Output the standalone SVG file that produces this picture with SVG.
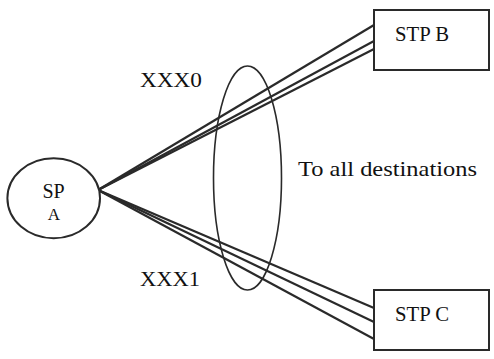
<svg xmlns="http://www.w3.org/2000/svg" width="494" height="359" viewBox="0 0 494 359">
<style>
.shape{fill:#fff;stroke:#2a2a2a;stroke-width:2}
.link{stroke:#2a2a2a;stroke-width:2.2;fill:none}
.grp{fill:none;stroke:#2a2a2a;stroke-width:1.6}
.t{font-family:'Times New Roman','Liberation Serif',Tinos,Times,serif;fill:#111}
</style>
<rect width="494" height="359" fill="#fff"/>
<g id="connectors">
<line class="link" x1="98" y1="190" x2="374" y2="25"/>
<line class="link" x1="98" y1="190" x2="374" y2="41"/>
<line class="link" x1="98" y1="190" x2="374" y2="49"/>
<line class="link" x1="98" y1="190" x2="374" y2="308"/>
<line class="link" x1="98" y1="190" x2="374" y2="322"/>
<line class="link" x1="98" y1="190" x2="374" y2="339"/>
</g>
<g id="spA">
<ellipse class="shape" cx="53.7" cy="198.3" rx="46.3" ry="40"/>
<text class="t" x="53.5" y="198" font-size="20" text-anchor="middle">SP</text>
<text class="t" x="54" y="220" font-size="17" text-anchor="middle">A</text>
</g>
<g id="stpB">
<rect class="shape" x="374" y="10" width="115" height="60"/>
<text class="t" x="395" y="41" font-size="20.5" textLength="54" lengthAdjust="spacingAndGlyphs">STP B</text>
</g>
<g id="stpC">
<rect class="shape" x="374" y="290" width="115" height="60"/>
<text class="t" x="395" y="321" font-size="20.5" textLength="54" lengthAdjust="spacingAndGlyphs">STP C</text>
</g>
<g id="group">
<ellipse class="grp" cx="247.5" cy="178" rx="34" ry="112"/>
</g>
<g id="labels">
<text class="t" x="140" y="86.5" font-size="21" textLength="62" lengthAdjust="spacingAndGlyphs">XXX0</text>
<text class="t" x="140" y="286" font-size="21" textLength="60" lengthAdjust="spacingAndGlyphs">XXX1</text>
<text class="t" x="298" y="175.5" font-size="22" textLength="179" lengthAdjust="spacingAndGlyphs">To all destinations</text>
</g>
</svg>
